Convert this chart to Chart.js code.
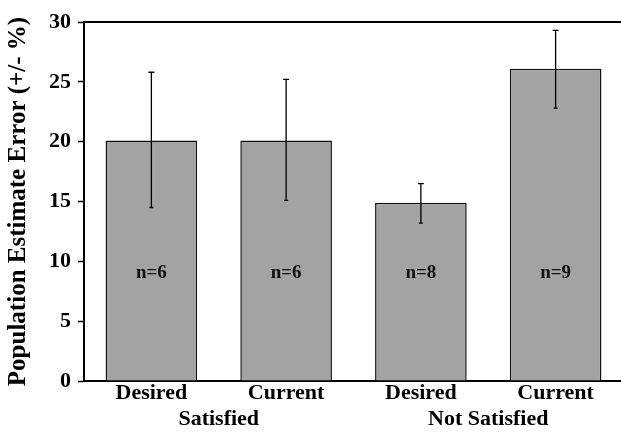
<!DOCTYPE html>
<html>
<head>
<meta charset="utf-8">
<script src="https://cdn.jsdelivr.net/npm/chart.js@4.4.1/dist/chart.umd.min.js"></script>
<style>
html,body{margin:0;padding:0;background:#fff;overflow:hidden;}
#wrap{position:absolute;left:0;top:0;width:625px;height:437px;}
</style>
</head>
<body>
<div id="wrap"><canvas id="c" width="625" height="437"></canvas></div>
<script>
const categories = ['Desired', 'Current', 'Desired', 'Current'];
const groups = ['Satisfied', 'Not Satisfied'];
const means = [20.1, 20.1, 14.9, 26.1];
const errLow = [14.5, 15.1, 13.2, 22.8];
const errHigh = [25.8, 25.2, 16.5, 29.3];
const nLabels = ['n=6', 'n=6', 'n=8', 'n=9'];
const nLabelY = 9;
const yTicks = [0, 5, 10, 15, 20, 25, 30];

const serif = '"Liberation Serif", "DejaVu Serif", serif';

const extras = {
  id: 'extras',
  afterDatasetsDraw(chart) {
    const ctx = chart.ctx;
    const x = chart.scales.x, y = chart.scales.y;
    const area = chart.chartArea;
    ctx.save();
    // error bars
    ctx.strokeStyle = '#000';
    ctx.lineWidth = 1.3;
    errLow.forEach((lo, i) => {
      const cx = x.getPixelForValue(i);
      const yl = y.getPixelForValue(lo), yh = y.getPixelForValue(errHigh[i]);
      ctx.beginPath();
      ctx.moveTo(cx, yl); ctx.lineTo(cx, yh);
      ctx.moveTo(cx - 3, yh); ctx.lineTo(cx + 3, yh);
      ctx.moveTo(cx - 2, yl); ctx.lineTo(cx + 2, yl);
      ctx.stroke();
    });
    // n labels
    ctx.fillStyle = '#111';
    ctx.font = 'bold 19px ' + serif;
    ctx.textAlign = 'center';
    ctx.textBaseline = 'middle';
    nLabels.forEach((t, i) => {
      ctx.fillText(t, x.getPixelForValue(i), y.getPixelForValue(nLabelY));
    });
    // top frame line
    ctx.lineWidth = 2;
    ctx.beginPath();
    ctx.moveTo(area.left, area.top);
    ctx.lineTo(area.right, area.top);
    ctx.stroke();
    ctx.restore();
  }
};

new Chart(document.getElementById('c'), {
  type: 'bar',
  data: {
    labels: categories,
    datasets: [{
      data: means,
      backgroundColor: '#a3a3a3',
      borderColor: '#111',
      borderWidth: 1.5,
      borderSkipped: 'bottom',
      barPercentage: 0.68,
      categoryPercentage: 1.0
    }]
  },
  options: {
    responsive: false,
    animation: false,
    layout: { padding: { top: 22, right: 2, left: 4, bottom: 4 } },
    plugins: { legend: { display: false }, tooltip: { enabled: false } },
    scales: {
      x: {
        type: 'category',
        grid: { display: false, drawTicks: false },
        border: { display: true, color: '#000', width: 2 },
        ticks: { color: '#000', font: { family: serif, size: 22, weight: 'bold', lineHeight: 1 }, padding: 1, maxRotation: 0 }
      },
      x2: {
        type: 'category',
        position: 'bottom',
        labels: groups,
        grid: { display: false, drawTicks: false },
        border: { display: false },
        ticks: { color: '#000', font: { family: serif, size: 22, weight: 'bold', lineHeight: 1 }, padding: 3, maxRotation: 0 }
      },
      y: {
        min: 0, max: 30,
        afterBuildTicks(s) { s.ticks = yTicks.map(v => ({ value: v })); },
        grid: { display: true, drawOnChartArea: false, drawTicks: true, tickLength: 6, color: '#000', tickWidth: 1.5 },
        border: { display: true, color: '#000', width: 2 },
        ticks: { color: '#000', font: { family: serif, size: 22, weight: 'bold' }, padding: 7 },
        title: { display: true, text: 'Population Estimate Error (+/- %)', color: '#000', font: { family: serif, size: 25, weight: 'bold' }, padding: { top: 0, bottom: 8 } }
      }
    }
  },
  plugins: [extras]
});
</script>
</body>
</html>
